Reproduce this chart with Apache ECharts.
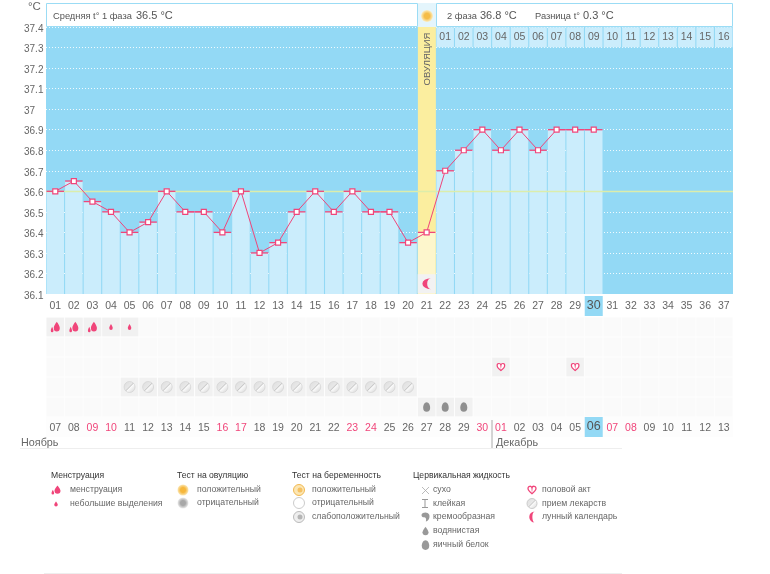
<!DOCTYPE html>
<html>
<head>
<meta charset="utf-8">
<style>
  html, body { margin: 0; padding: 0; background: #fff; }
  #chart { width: 770px; height: 574px; }
</style>
<script src="https://cdn.jsdelivr.net/npm/echarts@6/dist/echarts.min.js"></script>
</head>
<body>
<div id="chart"></div>
<script>
const cycleDays = ['01','02','03','04','05','06','07','08','09','10','11','12','13','14','15','16','17','18','19','20','21','22','23','24','25','26','27','28','29','30','31','32','33','34','35','36','37']
const dates = ['07','08','09','10','11','12','13','14','15','16','17','18','19','20','21','22','23','24','25','26','27','28','29','30','01','02','03','04','05','06','07','08','09','10','11','12','13']
const weekendIdx = [2,3,9,10,16,17,23,24,30,31]
const temps = [36.6,36.65,36.55,36.5,36.4,36.45,36.6,36.5,36.5,36.4,36.6,36.3,36.35,36.5,36.6,36.5,36.6,36.5,36.5,36.35,36.4,36.7,36.8,36.9,36.8,36.9,36.8,36.9,36.9,36.9]
const phase2Labels = ['01','02','03','04','05','06','07','08','09','10','11','12','13','14','15','16']
const heavyDays = [1,2,3]
const lightDays = [4,5]
const loveDays = [25,29]
const pillDays = [5,6,7,8,9,10,11,12,13,14,15,16,17,18,19,20]
const eggDays = [21,22,23]
const ovulationDay = 21
const coverLine = 36.6
const todayIdx = 29

const FONT = '"Liberation Sans", Arial, sans-serif'
const PINK = '#f0457a'
const BLUE = '#93d9f5'
const PALE = '#cbedfc'

const DROP = 'M5 0C5 0 10 6.5 10 9.5A5 5 0 0 1 0 9.5C0 6.5 5 0 5 0Z'
const DROP2 = 'M9 0C9 0 13.5 5 13.5 8A4.5 4.5 0 0 1 4.5 8C4.5 5 9 0 9 0ZM2 6.5C2 6.5 4 10 4 11.5A2 2 0 0 1 0 11.5C0 10 2 6.5 2 6.5Z'
const EGG = 'M5 0C8 0 10 4 10 7.5A5 5.5 0 0 1 0 7.5C0 4 2 0 5 0Z'
const HEART = 'M6 11C1 7 0 5.5 0 3.2A3 3 0 0 1 6 2.4A3 3 0 0 1 12 3.2C12 5.5 11 7 6 11Z'
const MOON = 'M9 0A8 8 0 1 0 9 16A3.5 8 0 0 1 9 0Z'
const pillFill = new echarts.graphic.LinearGradient(0, 0, 1, 1, [
  {offset: 0, color: '#dcdcdc'}, {offset: 0.45, color: '#e8e8e8'},
  {offset: 0.5, color: '#c8c8c8'}, {offset: 0.56, color: '#fafafa'}, {offset: 1, color: '#d0d0d0'}
])

const rowCell = (day, row) => [day - 1, row]
const faintCells = []
for (let r = 0; r < 5; r++) cycleDays.forEach((d, i) => faintCells.push([i, r]))
const activeCells = [
  ...heavyDays.map(d => rowCell(d, 0)), ...lightDays.map(d => rowCell(d, 0)),
  ...loveDays.map(d => rowCell(d, 2)), ...pillDays.map(d => rowCell(d, 3)),
  ...eggDays.map(d => rowCell(d, 4))
]

const eventSeries = (data, symbol, size, itemStyle, extra) => Object.assign({
  type: 'scatter', xAxisIndex: 1, yAxisIndex: 1, silent: true, z: 4,
  data, symbol, symbolSize: size, itemStyle
}, extra)

// legend / header pieces
const txt = (x, y, text, size, color) => ({
  type: 'text', x, y, z: 20, silent: true,
  style: {text, fill: color || '#666', font: (size || 8.7) + 'px ' + FONT, verticalAlign: 'middle'}
})
const dot = (cx, cy, r, fill, stroke) => ({
  type: 'circle', z: 20, silent: true, shape: {cx, cy, r},
  style: {fill, stroke: stroke || null, lineWidth: stroke ? 1 : 0}
})
const radial = (inner, outer) => new echarts.graphic.RadialGradient(0.5, 0.5, 0.5, [
  {offset: 0, color: inner}, {offset: 0.45, color: inner}, {offset: 1, color: outer}
])
// path icons of the legend, drawn by a custom series in pixels
const legendIcons = [
  [DROP2, 56, 490, 9, 9, PINK],
  [DROP, 56, 504, 3.5, 6, PINK],
  ['M0 0H6V1H3.5V8H6V9H0V8H2.5V1H0Z', 425, 503.5, 6, 9, '#999'],
  ['M0 3C1 0 7 -1 9 3C10 7 8 10 5 11C6 8 5 6 3 6C1 6 0 5 0 3Z', 425.5, 517, 8, 10, '#999'],
  [DROP, 425.5, 531, 6, 9, '#999'],
  [EGG, 425.5, 545, 7.5, 10, '#999'],
  [HEART, 532, 490, 8, 7.5, '#fff', PINK],
  [MOON, 532, 517, 8, 11, PINK]
]

const graphics = [
  {type: 'rect', z: -1, silent: true, shape: {x: 46, y: 317, width: 687, height: 120}, style: {fill: '#fdfdfd'}},
  {type: 'rect', z: 20, silent: true, shape: {x: 46.5, y: 3.5, width: 371, height: 23}, style: {fill: '#fff', stroke: '#9bdcf5', lineWidth: 1}},
  {type: 'rect', z: 20, silent: true, shape: {x: 418, y: 3, width: 18, height: 24}, style: {fill: '#e4f5fc'}},
  {type: 'rect', z: 20, silent: true, shape: {x: 436.5, y: 3.5, width: 296, height: 23}, style: {fill: '#fff', stroke: '#9bdcf5', lineWidth: 1}},
  dot(427, 16, 6, radial('#f5bd48', '#fbeec4')),
  txt(28, 7, '°C', 11.5),
  txt(53, 16, 'Средняя t° 1 фаза', 9.3, '#555'),
  txt(136, 15.5, '36.5 °C', 11, '#555'),
  txt(447, 16, '2 фаза', 9.3, '#555'),
  txt(480, 15.5, '36.8 °C', 11, '#555'),
  txt(535, 16, 'Разница t°', 9.3, '#555'),
  txt(583, 15.5, '0.3 °C', 11, '#555'),
  {
    type: 'text', x: 427, y: 59, z: 20, silent: true, rotation: Math.PI / 2,
    style: {text: 'ОВУЛЯЦИЯ', fill: '#666', font: '9.5px ' + FONT, align: 'center', verticalAlign: 'middle'}
  },

  txt(21, 443, 'Ноябрь', 10.8),
  txt(496, 443, 'Декабрь', 10.8),
  {type: 'line', z: 20, silent: true, shape: {x1: 492, y1: 420, x2: 492, y2: 448}, style: {stroke: '#aaa', lineWidth: 1}},
  {type: 'line', z: 20, silent: true, shape: {x1: 20, y1: 448.5, x2: 622, y2: 448.5}, style: {stroke: '#eee', lineWidth: 1}},
  {type: 'line', z: 20, silent: true, shape: {x1: 44, y1: 573.5, x2: 622, y2: 573.5}, style: {stroke: '#eee', lineWidth: 1}},

  txt(51, 476, 'Менструация', 8.6, '#333'),
  txt(70, 490, 'менструация'),
  txt(70, 504, 'небольшие выделения'),

  txt(177, 476, 'Тест на овуляцию', 8.6, '#333'),
  dot(183, 490, 5.5, radial('#f6b73c', '#fbe8b8')),
  txt(197, 490, 'положительный'),
  dot(183, 503, 5.5, radial('#a8a8a8', '#ececec')),
  txt(197, 503, 'отрицательный'),

  txt(292, 476, 'Тест на беременность', 8.6, '#333'),
  dot(299, 490, 5.5, '#fbe6b4', '#f2b950'),
  dot(300, 490, 2.5, '#f6c162'),
  txt(312, 490, 'положительный'),
  dot(299, 503, 5.5, '#fff', '#ccc'),
  txt(312, 503, 'отрицательный'),
  dot(299, 517, 5.5, '#eee', '#bbb'),
  dot(300, 517, 2.5, '#b5b5b5'),
  txt(312, 517, 'слабоположительный'),

  txt(413, 476, 'Цервикальная жидкость', 8.6, '#333'),
  {type: 'line', z: 20, silent: true, shape: {x1: 422, y1: 487, x2: 429, y2: 494}, style: {stroke: '#aaa', lineWidth: 0.8}},
  {type: 'line', z: 20, silent: true, shape: {x1: 429, y1: 487, x2: 422, y2: 494}, style: {stroke: '#aaa', lineWidth: 0.8}},
  txt(433, 490, 'сухо'),
  txt(433, 503.5, 'клейкая'),
  txt(433, 517, 'кремообразная'),
  txt(433, 531, 'водянистая'),
  txt(433, 545, 'яичный белок'),

  txt(542, 490, 'половой акт'),
  dot(532, 503.5, 5, pillFill, '#ccc'),
  txt(542, 503.5, 'прием лекарств'),
  txt(542, 517, 'лунный календарь')
]

const option = {
  animation: false,
  backgroundColor: '#fff',
  textStyle: {fontFamily: FONT},
  grid: [
    {left: 46, right: 37, top: 27, height: 267, show: true, backgroundColor: BLUE, borderWidth: 0},
    {left: 46, right: 37, top: 317, height: 100, show: false}
  ],
  xAxis: [
    {
      type: 'category', gridIndex: 0, data: cycleDays,
      axisLine: {show: false}, axisTick: {show: false}, splitLine: {show: false},
      axisLabel: {
        interval: 0, margin: 2, color: '#666', fontSize: 11,
        formatter: (v, i) => i === todayIdx ? '{hl|' + v + '}' : '{d|' + v + '}',
        rich: {
          d: {height: 20, lineHeight: 20, fontSize: 10.5, color: '#666', fontFamily: FONT},
          hl: {width: 18, height: 20, lineHeight: 20, align: 'center', fontSize: 12.5, color: '#555', backgroundColor: BLUE, fontFamily: FONT}
        }
      }
    },
    {
      type: 'category', gridIndex: 1, data: dates,
      axisLine: {show: false}, axisTick: {show: false}, splitLine: {show: false},
      axisLabel: {
        interval: 0, margin: 1, fontSize: 11,
        formatter: (v, i) => {
          if (i === todayIdx) return '{hl|' + v + '}'
          return (weekendIdx.includes(i) ? '{w|' : '{d|') + v + '}'
        },
        rich: {
          d: {height: 20, lineHeight: 21, fontSize: 10.5, color: '#666', fontFamily: FONT},
          w: {height: 20, lineHeight: 21, fontSize: 10.5, color: PINK, fontFamily: FONT},
          hl: {width: 18, height: 20, lineHeight: 18, align: 'center', fontSize: 12.5, color: '#555', backgroundColor: BLUE, fontFamily: FONT}
        }
      }
    }
  ],
  yAxis: [
    {
      type: 'value', gridIndex: 0, min: 36.1, max: 37.4, interval: 0.1,
      axisLine: {show: false}, axisTick: {show: false},
      axisLabel: {
        align: 'left', verticalAlign: 'top', lineHeight: 4, margin: 22, color: '#666', fontSize: 10,
        formatter: v => String(+v.toFixed(1))
      },
      splitLine: {show: true, lineStyle: {color: '#fff', type: [1, 2], width: 1, opacity: 0.85}}
    },
    {
      type: 'category', gridIndex: 1, inverse: true, data: ['0','1','2','3','4'],
      axisLine: {show: false}, axisTick: {show: false}, axisLabel: {show: false}, splitLine: {show: false}
    }
  ],
  series: [
    {
      name: 'strip', type: 'bar', barWidth: 18, barGap: '-100%', silent: true, z: 1,
      data: cycleDays.map((d, i) => i === ovulationDay - 1 ? 37.4 : null),
      itemStyle: {color: '#fbee9f'}
    },
    {
      name: 'temp', type: 'bar', barWidth: 17.5, barGap: '-100%', silent: true, z: 2,
      data: temps.map((v, i) => i === ovulationDay - 1 ? {value: v, itemStyle: {color: '#fdf6cc'}} : v),
      itemStyle: {color: PALE}
    },
    {
      name: 'cells2', type: 'scatter', silent: true, z: 3,
      symbol: 'rect', symbolSize: [17.5, 20],
      data: phase2Labels.map((l, i) => ({name: l, value: [ovulationDay + i, 37.35]})),
      itemStyle: {color: PALE, opacity: 1},
      label: {show: true, position: 'inside', formatter: p => p.name, color: '#666', fontSize: 10.5, fontFamily: FONT}
    },
    {
      name: 'moonCell', type: 'scatter', silent: true, z: 3,
      symbol: 'rect', symbolSize: [18, 19],
      data: [[ovulationDay - 1, 36.15]],
      itemStyle: {color: '#f2f2f2', opacity: 1}
    },
    {
      name: 'moon', type: 'scatter', silent: true, z: 4,
      symbol: 'path://' + MOON, symbolSize: [8.5, 11],
      data: [[ovulationDay - 1, 36.15]],
      itemStyle: {color: PINK, opacity: 1}
    },
    {
      name: 'caps', type: 'scatter', silent: true, z: 5,
      symbol: 'rect', symbolSize: [17.5, 1.3],
      data: temps.map((v, i) => [i, v]),
      itemStyle: {color: PINK, opacity: 1}
    },
    {
      name: 'line', type: 'line', silent: true, z: 6,
      data: temps, symbol: 'rect', symbolSize: 5, showAllSymbol: true,
      lineStyle: {color: PINK, width: 1},
      itemStyle: {color: '#fff', borderColor: PINK, borderWidth: 1.2},
      markLine: {
        silent: true, symbol: 'none', label: {show: false}, z: 5,
        lineStyle: {color: '#dcedab', width: 1.4, type: 'solid'},
        data: [{yAxis: coverLine}]
      }
    },
    eventSeries(faintCells, 'rect', [17.5, 18.5], {color: '#fafafa', opacity: 1}, {z: 2}),
    eventSeries(activeCells, 'rect', [17.5, 18.5], {color: '#f1f1f1', opacity: 1}, {z: 3}),
    eventSeries(heavyDays.map(d => rowCell(d, 0)), 'path://' + DROP2, [9, 10.5], {color: PINK, opacity: 1}),
    eventSeries(lightDays.map(d => rowCell(d, 0)), 'path://' + DROP, [3.5, 6], {color: PINK, opacity: 1}),
    eventSeries(loveDays.map(d => rowCell(d, 2)), 'path://' + HEART, [7.5, 7], {color: '#fff', borderColor: PINK, borderWidth: 1.2, opacity: 1}),
    eventSeries(pillDays.map(d => rowCell(d, 3)), 'circle', 11, {color: pillFill, borderColor: '#cfcfcf', borderWidth: 0.6, opacity: 1}),
    eventSeries(eggDays.map(d => rowCell(d, 4)), 'path://' + EGG, [7, 9.5], {color: '#8f8f8f', opacity: 1}),
    {
      name: 'legendIcons', type: 'custom', coordinateSystem: 'none', silent: true, z: 20,
      data: legendIcons.map((d, i) => i),
      renderItem: (params) => {
        const [pathData, cx, cy, w, h, fill, stroke] = legendIcons[params.dataIndex]
        return {
          type: 'path',
          shape: {pathData, layout: 'center', x: cx - w / 2, y: cy - h / 2, width: w, height: h},
          style: {fill, stroke: stroke || null, lineWidth: stroke ? 1.3 : 0}
        }
      }
    }
  ],
  graphic: {elements: graphics}
}

const chart = echarts.init(document.getElementById('chart'))
chart.setOption(option)
</script>
</body>
</html>
